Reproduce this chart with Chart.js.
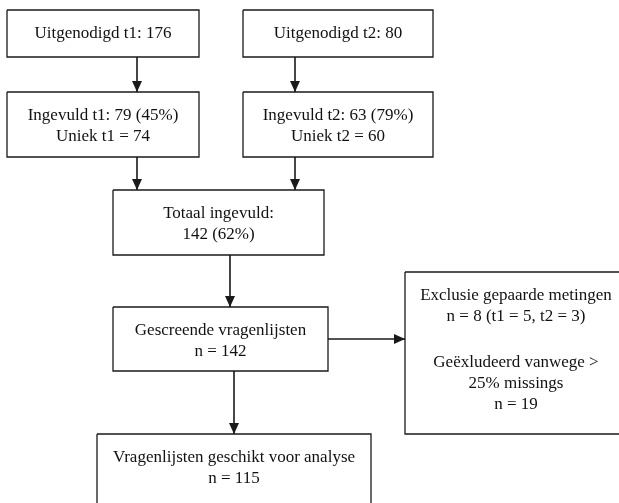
<!DOCTYPE html>
<html>
<head>
<meta charset="utf-8">
<script src="https://cdn.jsdelivr.net/npm/chart.js@4.4.1/dist/chart.umd.min.js"></script>
<style>
  html, body { margin: 0; padding: 0; background: #fff; }
  #wrap { width: 619px; height: 503px; }
</style>
</head>
<body>
<div id="wrap"><canvas id="flowChart" width="619" height="503"></canvas></div>
<script>
// counts
const invited = [176, 80];
const completed = [79, 63];
const completedPct = [45, 79];
const unique = [74, 60];
const totalCompleted = 142;
const totalPct = 62;
const screened = 142;
const excludedPaired = 8;
const excludedPairedSplit = [5, 3];
const excludedMissing = 19;
const analysed = 115;

// text of each box, one entry per line ("" = empty line)
const boxLabels = [
  ["Uitgenodigd t1: " + invited[0]],
  ["Uitgenodigd t2: " + invited[1]],
  ["Ingevuld t1: " + completed[0] + " (" + completedPct[0] + "%)", "Uniek t1 = " + unique[0]],
  ["Ingevuld t2: " + completed[1] + " (" + completedPct[1] + "%)", "Uniek t2 = " + unique[1]],
  ["Totaal ingevuld:", totalCompleted + " (" + totalPct + "%)"],
  ["Gescreende vragenlijsten", "n = " + screened],
  ["Exclusie gepaarde metingen",
   "n = " + excludedPaired + " (t1 = " + excludedPairedSplit[0] + ", t2 = " + excludedPairedSplit[1] + ")",
   "",
   "Geëxludeerd vanwege >",
   "25% missings",
   "n = " + excludedMissing],
  ["Vragenlijsten geschikt voor analyse", "n = " + analysed],
];

// layout (scale units = page pixels): [x0, y0, x1, y1]
const boxLayout = [
  [7, 10, 199, 57],
  [243, 10, 433, 57],
  [7, 92, 199, 157],
  [243, 92, 433, 157],
  [113, 190, 324, 255],
  [113, 307, 328, 371],
  [405, 272, 627, 434],
  [97, 434, 371, 506],
];

// connectors: [x0, y0, x1, y1], head at the second point
const arrowLayout = [
  [137, 57, 137, 92],
  [295, 57, 295, 92],
  [137, 157, 137, 190],
  [295, 157, 295, 190],
  [230, 255, 230, 307],
  [328, 339, 405, 339],
  [234, 371, 234, 434],
];

const lineColor = "#1a1a1a";
const fontSpec = '17px "Liberation Serif", "Times New Roman", serif';

const datasets = [];
boxLayout.forEach((b) => {
  datasets.push({
    data: [
      { x: b[0], y: b[1] },
      { x: b[2], y: b[1] },
      { x: b[2], y: b[3] },
      { x: b[0], y: b[3] },
      { x: b[0], y: b[1] },
    ],
    showLine: true,
    borderColor: lineColor,
    borderWidth: 1.3,
    pointRadius: 0,
    fill: false,
  });
});
arrowLayout.forEach((a) => {
  datasets.push({
    data: [
      { x: a[0], y: a[1] },
      { x: a[2], y: a[3] },
    ],
    showLine: true,
    borderColor: lineColor,
    borderWidth: 1.6,
    pointRadius: 0,
    fill: false,
  });
});

// arrow heads and box text
const flowPlugin = {
  id: "flowPlugin",
  afterDatasetsDraw(chart) {
    const ctx = chart.ctx;
    const xs = chart.scales.x;
    const ys = chart.scales.y;
    ctx.save();

    ctx.fillStyle = lineColor;
    arrowLayout.forEach((a) => {
      const x0 = xs.getPixelForValue(a[0]);
      const y0 = ys.getPixelForValue(a[1]);
      const x1 = xs.getPixelForValue(a[2]);
      const y1 = ys.getPixelForValue(a[3]);
      const ang = Math.atan2(y1 - y0, x1 - x0);
      const len = 11, half = 5;
      ctx.beginPath();
      ctx.moveTo(x1, y1);
      ctx.lineTo(x1 - len * Math.cos(ang) + half * Math.sin(ang), y1 - len * Math.sin(ang) - half * Math.cos(ang));
      ctx.lineTo(x1 - len * Math.cos(ang) - half * Math.sin(ang), y1 - len * Math.sin(ang) + half * Math.cos(ang));
      ctx.closePath();
      ctx.fill();
    });

    ctx.font = fontSpec;
    ctx.fillStyle = "#111";
    ctx.textAlign = "center";
    ctx.textBaseline = "middle";
    boxLabels.forEach((lines, i) => {
      const b = boxLayout[i];
      const cx = xs.getPixelForValue((b[0] + b[2]) / 2);
      let y = ys.getPixelForValue(b[1]) + 24;
      lines.forEach((t) => {
        if (t === "") {
          y += 25;
          return;
        }
        ctx.fillText(t, cx, y);
        y += 21;
      });
    });
    ctx.restore();
  },
};

new Chart(document.getElementById("flowChart").getContext("2d"), {
  type: "scatter",
  data: { datasets: datasets },
  options: {
    responsive: false,
    animation: false,
    devicePixelRatio: 1,
    layout: { padding: 0 },
    plugins: { legend: { display: false }, tooltip: { enabled: false } },
    scales: {
      x: { type: "linear", min: 0, max: 619, display: false },
      y: { type: "linear", min: 0, max: 503, reverse: true, display: false },
    },
  },
  plugins: [flowPlugin],
});
</script>
</body>
</html>
